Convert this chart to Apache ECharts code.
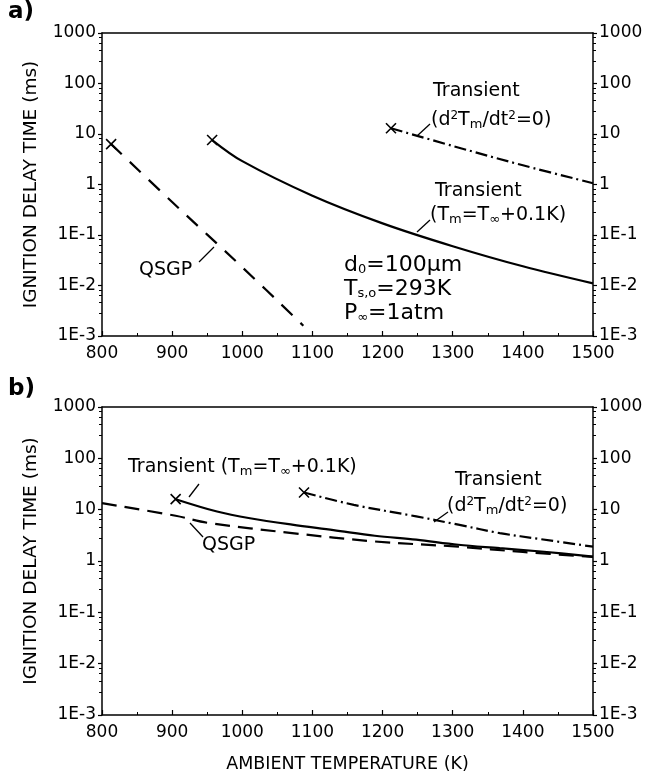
<!DOCTYPE html>
<html><head><meta charset="utf-8">
<script src="https://cdn.jsdelivr.net/npm/echarts@6/dist/echarts.min.js"></script>
<style>html,body{margin:0;padding:0;background:#fff}#c{width:651px;height:776px}</style>
</head><body><div id="c"></div>
<script>
// ---- data ----
const xTicks = [800, 900, 1000, 1100, 1200, 1300, 1400, 1500];
const yTickLabels = {'-3':'1E-3','-2':'1E-2','-1':'1E-1','0':'1','1':'10','2':'100','3':'1000'};

// panel a
const aQsgpT = [813, 900, 1000, 1087];
const aQsgpV = [6.3, 0.45, 0.023, 0.0016];
const aTmT = [957, 1000, 1100, 1200, 1300, 1400, 1500];
const aTmV = [7.6, 2.9, 0.6, 0.17, 0.06, 0.024, 0.011];
const aD2T = [1212, 1300, 1400, 1500];
const aD2V = [13, 5.8, 2.4, 1.06];

// panel b
const bQsgpT = [800, 905, 952, 1071, 1189, 1308, 1400, 1500];
const bQsgpV = [13.4, 7.6, 5.5, 3.5, 2.4, 1.9, 1.5, 1.2];
const bTmT = [905, 964, 1011, 1071, 1130, 1189, 1248, 1308, 1367, 1426, 1500];
const bTmV = [16, 9.2, 6.8, 5.1, 4.0, 3.1, 2.6, 2.07, 1.78, 1.53, 1.22];
const bD2T = [1088, 1159, 1248, 1308, 1367, 1426, 1500];
const bD2V = [21.6, 12.4, 7.4, 5.1, 3.5, 2.66, 1.9];

const FONT = 'DejaVu Sans';
const XMARK = 'path://M0,0L10,10M10,0L0,10';

function mk(T, V, marker) {
  return T.map((t, i) => {
    const it = { value: [t, V[i]] };
    if (marker && i === 0) { it.symbol = XMARK; it.symbolSize = 10; }
    return it;
  });
}
function ylab(v) {
  const e = Math.round(Math.log10(v));
  return yTickLabels[String(e)] || '';
}
const chart = echarts.init(document.getElementById('c'));
const grids = [
  { left: 102, right: 58, top: 33, height: 303 },
  { left: 102, right: 58, top: 407, height: 308 }
];
const xAxes = [], yAxes = [];
[0, 1].forEach(g => {
  xAxes.push({
    type: 'value', gridIndex: g, min: xTicks[0], max: xTicks[xTicks.length - 1], interval: 100,
    axisLine: { lineStyle: { color: '#000', width: 1.5 } },
    axisTick: { inside: true, length: 5, lineStyle: { color: '#000', width: 1.2 } },
    minorTick: { show: true, splitNumber: 2, length: 3, lineStyle: { color: '#000' } },
    splitLine: { show: false },
    axisLabel: { color: '#000', fontFamily: FONT, fontSize: 17, margin: 9,
      formatter: v => xTicks.includes(v) ? String(v) : '' },
    name: g === 1 ? 'AMBIENT TEMPERATURE (K)' : '',
    nameLocation: 'middle', nameGap: 40,
    nameTextStyle: { color: '#000', fontFamily: FONT, fontSize: 17.5 }
  });
  xAxes.push({
    type: 'value', gridIndex: g, position: 'top', min: xTicks[0], max: xTicks[xTicks.length - 1],
    axisLine: { lineStyle: { color: '#000', width: 1.5 } },
    axisTick: { show: false }, axisLabel: { show: false }, splitLine: { show: false }
  });
  ['left', 'right'].forEach(pos => {
    yAxes.push({
      type: 'log', logBase: 10, gridIndex: g, position: pos, min: 0.001, max: 1000,
      axisLine: { show: true, lineStyle: { color: '#000', width: 1.5 } },
      axisTick: { show: true, inside: false, length: 4, lineStyle: { color: '#000', width: 1.2 } },
      minorTick: { show: true, splitNumber: 5, length: 3, lineStyle: { color: '#000' } },
      splitLine: { show: false },
      axisLabel: { color: '#000', fontFamily: FONT, fontSize: 17, margin: 6, formatter: ylab },
      name: pos === 'left' ? 'IGNITION DELAY TIME (ms)' : '',
      nameLocation: 'middle', nameGap: 61, nameRotate: 90,
      nameTextStyle: { color: '#000', fontFamily: FONT, fontSize: 18.5 }
    });
  });
});

function line(T, V, g, type, marker) {
  return {
    type: 'line', xAxisIndex: g * 2, yAxisIndex: g * 2, data: mk(T, V, marker),
    symbol: 'none', showSymbol: true, smooth: 0.35, silent: true,
    lineStyle: { color: '#000', width: 2.2, type: type },
    itemStyle: { color: 'none', borderColor: '#000', borderWidth: 1.6 }
  };
}

const T = (x, y, text, size, extra) => Object.assign({
  type: 'text', left: x, top: y,
  style: { text: text, fill: '#000', font: (size || 18) + 'px "' + FONT + '"' }
}, extra || {});
const rich = { s: { fontSize: 13, fontFamily: FONT, verticalAlign: 'bottom', padding: [9, 0, 0, 0] },
               p: { fontSize: 12, fontFamily: FONT, padding: [0, 0, 8, 0] } };
const RT = (x, y, text, size) => ({
  type: 'text', left: x, top: y,
  style: { text: text, fill: '#000', fontFamily: FONT, fontSize: size || 18, rich: rich }
});
const L = (x1, y1, x2, y2) => ({ type: 'line', shape: { x1, y1, x2, y2 }, style: { stroke: '#000', lineWidth: 1.3 } });

chart.setOption({
  animation: false,
  grid: grids,
  xAxis: xAxes,
  yAxis: yAxes,
  series: [
    line(aQsgpT, aQsgpV, 0, [15, 11], true),
    line(aTmT, aTmV, 0, 'solid', true),
    line(aD2T, aD2V, 0, [12, 4, 2, 4], true),
    line(bQsgpT, bQsgpV, 1, [15, 8], false),
    line(bTmT, bTmV, 1, 'solid', true),
    line(bD2T, bD2V, 1, [12, 4, 2, 4], true)
  ],
  graphic: [
    { type: 'text', left: 8, top: 1, style: { text: 'a)', fill: '#000', font: 'bold 23px "' + FONT + '"' } },
    { type: 'text', left: 8, top: 378, style: { text: 'b)', fill: '#000', font: 'bold 23px "' + FONT + '"' } },
    // panel a annotations
    T(433, 82, 'Transient', 19),
    RT(431, 110, '(d{p|2}T{s|m}/dt{p|2}=0)', 19),
    L(430, 124, 417, 136),
    T(435, 182, 'Transient', 19),
    RT(430, 206, '(T{s|m}=T{s|∞}+0.1K)', 19),
    L(430, 220, 417, 232),
    RT(344, 254, 'd{s|0}=100μm', 22),
    RT(344, 278, 'T{s|s,o}=293K', 22),
    RT(344, 302, 'P{s|∞}=1atm', 22),
    T(139, 261, 'QSGP', 19),
    L(199, 262, 214, 247),
    // panel b annotations
    RT(128, 458, 'Transient (T{s|m}=T{s|∞}+0.1K)', 19),
    L(199, 484, 189, 497),
    T(455, 471, 'Transient', 19),
    RT(447, 496, '(d{p|2}T{s|m}/dt{p|2}=0)', 19),
    L(448, 512, 434, 522),
    T(202, 536, 'QSGP', 19),
    L(203, 537, 190, 523)
  ]
});
</script></body></html>
